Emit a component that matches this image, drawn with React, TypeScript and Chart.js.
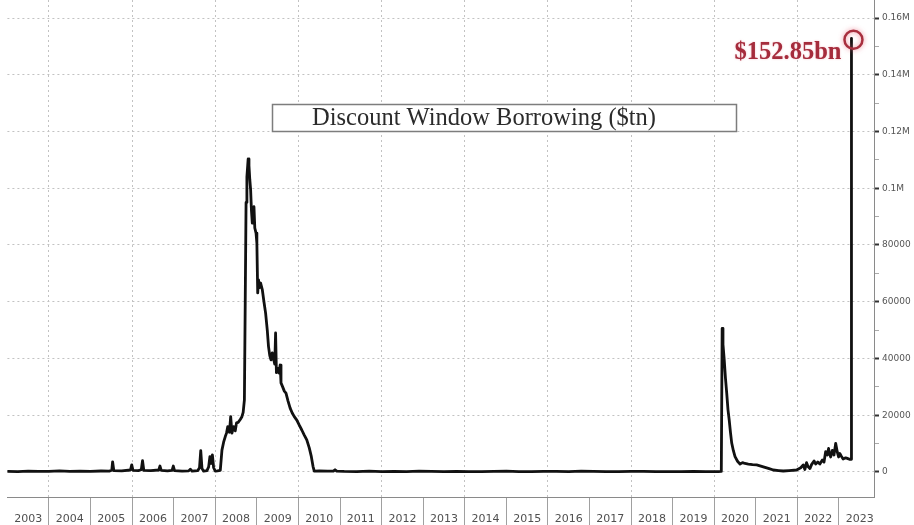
import React, { useEffect, useRef } from 'react';
import { Chart, registerables } from 'chart.js';

Chart.register(...registerables);

// Weekly observation dates (decimal years)
const dates: number[] = [
  2003.00, 2003.25, 2003.50, 2003.75, 2004.00, 2004.25, 2004.50, 2004.75, 2005.00, 2005.25, 2005.45,
  2005.51, 2005.53, 2005.56, 2005.75, 2005.96, 2005.99, 2006.02, 2006.15, 2006.22, 2006.25, 2006.28, 2006.45, 2006.64, 2006.67, 2006.70, 2006.85, 2006.96, 2006.99, 2007.02,
  2007.20, 2007.36, 2007.40, 2007.44, 2007.58, 2007.62, 2007.65, 2007.68, 2007.72, 2007.80, 2007.84, 2007.87, 2007.90, 2007.93, 2007.96, 2008.00,
  2008.05, 2008.12, 2008.16, 2008.20, 2008.24, 2008.27, 2008.30, 2008.34, 2008.37, 2008.40, 2008.44, 2008.48, 2008.51, 2008.55, 2008.60, 2008.64, 2008.67, 2008.70, 2008.72, 2008.74, 2008.76, 2008.79,
  2008.81, 2008.83, 2008.85, 2008.87, 2008.89, 2008.91, 2008.93, 2008.95, 2008.98, 2009.00,
  2009.02, 2009.04, 2009.06, 2009.09, 2009.13, 2009.17, 2009.21, 2009.25, 2009.28, 2009.31,
  2009.34, 2009.37, 2009.40, 2009.43, 2009.45, 2009.47, 2009.50, 2009.53, 2009.56, 2009.58,
  2009.62, 2009.66, 2009.70, 2009.75, 2009.80, 2009.85, 2009.90, 2009.96, 2010.02, 2010.08,
  2010.14, 2010.20, 2010.26, 2010.31, 2010.35, 2010.38,
  2010.50, 2010.70, 2010.84, 2010.88, 2010.92, 2011.10, 2011.40, 2011.70, 2012.00, 2012.30, 2012.60, 2012.90,
  2013.20, 2013.50, 2013.80, 2014.10, 2014.40, 2014.70, 2015.00, 2015.30, 2015.60, 2015.90, 2016.20, 2016.50,
  2016.80, 2017.10, 2017.40, 2017.70, 2018.00, 2018.30, 2018.60, 2018.90, 2019.20, 2019.50, 2019.80, 2020.10, 2020.17,
  2020.19, 2020.21, 2020.24, 2020.27, 2020.30, 2020.33, 2020.36, 2020.39, 2020.42, 2020.46,
  2020.50, 2020.56, 2020.62, 2020.68, 2020.74, 2020.82, 2020.92, 2021.02, 2021.12, 2021.22,
  2021.32, 2021.42, 2021.55, 2021.66, 2021.80, 2021.98, 2022.08, 2022.14, 2022.18, 2022.22,
  2022.26, 2022.30, 2022.34, 2022.40, 2022.44, 2022.49, 2022.54, 2022.60, 2022.64, 2022.68,
  2022.72, 2022.75, 2022.77, 2022.80, 2022.84, 2022.88, 2022.92, 2022.96, 2022.99, 2023.02,
  2023.06, 2023.10, 2023.16, 2023.20, 2023.25, 2023.29, 2023.30,
];

// Discount window borrowing ($mn)
const borrowing: number[] = [
  200, 150, 300, 200, 250, 400, 200, 300, 250, 350, 300,
  600, 3600, 500, 400, 700, 2500, 600, 500, 800, 4000, 600, 500, 700, 2100, 600, 400, 600, 2100, 500,
  300, 400, 1000, 300, 500, 1500, 7500, 1200, 300, 500, 1800, 5400, 3000, 6000, 1500, 300,
  400, 600, 7700, 10500, 12500, 13700, 16000, 14000, 19500, 13700, 16000, 14500, 17300, 17500, 18500, 19500, 21000, 25400, 60000, 95000, 104000, 110300,
  108000, 103000, 99400, 92000, 87700, 88000, 93500, 86000, 84200, 80700,
  63100, 67700, 65000, 66600, 64300, 60000, 56000, 50000, 44200, 41000,
  39500, 42000, 40000, 38000, 49000, 35000, 36500, 34900, 37700, 31400,
  30000, 28500, 27800, 25000, 22500, 20800, 19500, 18300, 16500, 14800,
  13000, 11300, 8500, 5400, 2000, 300,
  400, 300, 300, 800, 300, 200, 150, 300, 100, 200, 150, 300,
  200, 100, 250, 150, 100, 200, 300, 150, 100, 200, 250, 150,
  300, 200, 100, 150, 250, 200, 100, 150, 100, 200, 150, 100, 200,
  50600, 45000, 39500, 33000, 27800, 22000, 18300, 14000, 10200, 7500,
  5400, 3800, 2800, 3300, 3000, 2800, 2600, 2500, 2100, 1650,
  1200, 700, 500, 350, 500, 700, 1500, 2500, 900, 3300,
  1800, 1200, 2600, 3900, 2800, 3500, 2800, 4200, 3500, 7200,
  6000, 8300, 6500, 5300, 7600, 6000, 10100, 7000, 5300, 6500,
  5500, 4600, 5000, 4800, 4500, 4500, 152850,
];

const yearLabels: string[] = [
  '2003', '2004', '2005', '2006', '2007', '2008', '2009', '2010', '2011', '2012',
  '2013', '2014', '2015', '2016', '2017', '2018', '2019', '2020', '2021', '2022', '2023',
];

const yMajorTicks: number[] = [0, 20000, 40000, 60000, 80000, 100000, 120000, 140000, 160000];
const yTickLabels: string[] = ['0', '20000', '40000', '60000', '80000', '0.1M', '0.12M', '0.14M', '0.16M'];

const chartTitle = 'Discount Window Borrowing ($tn)';
const calloutText = '$152.85bn';

const overlayPlugin = {
  id: 'overlay',
  afterDatasetsDraw(chart: any) {
    const ctx: CanvasRenderingContext2D = chart.ctx;
    const xs = chart.scales.x;
    const ys = chart.scales.y;
    ctx.save();
    // title box
    ctx.fillStyle = '#ffffff';
    ctx.strokeStyle = '#7d7d7d';
    ctx.lineWidth = 1.5;
    ctx.beginPath();
    ctx.rect(272.5, 104.5, 464, 27);
    ctx.fill();
    ctx.stroke();
    ctx.fillStyle = '#2b2b2b';
    ctx.font = '24.5px "Liberation Serif", "DejaVu Serif", serif';
    ctx.textAlign = 'left';
    ctx.textBaseline = 'alphabetic';
    ctx.fillText(chartTitle, 312, 125);

    // callout circle at last point
    const last = dates.length - 1;
    const px = xs.getPixelForValue(dates[last]);
    const py = ys.getPixelForValue(borrowing[last]);
    ctx.shadowColor = 'rgba(230, 90, 110, 0.7)';
    ctx.shadowBlur = 5;
    ctx.strokeStyle = '#a8303f';
    ctx.lineWidth = 2.5;
    ctx.beginPath();
    ctx.arc(px + 2, py + 1.5, 9, 0, Math.PI * 2);
    ctx.stroke();
    ctx.shadowBlur = 2;
    ctx.shadowColor = 'rgba(230, 110, 130, 0.5)';
    ctx.fillStyle = '#a52c3c';
    ctx.font = 'bold 24.5px "Liberation Serif", "DejaVu Serif", serif';
    ctx.textAlign = 'right';
    ctx.fillText(calloutText, px - 10, py + 21);
    ctx.restore();
  },
};

export default function App() {
  const canvasRef = useRef<HTMLCanvasElement | null>(null);

  useEffect(() => {
    if (!canvasRef.current) return;
    Chart.defaults.font.family = '"DejaVu Sans", sans-serif';
    const data = dates.map((d, i) => ({ x: d, y: borrowing[i] }));
    const chart = new Chart(canvasRef.current, {
      type: 'line',
      data: {
        datasets: [
          {
            data,
            borderColor: '#111111',
            borderWidth: 2.8,
            borderJoinStyle: 'round',
            borderCapStyle: 'round',
            pointRadius: 0,
            tension: 0,
            fill: false,
          },
        ],
      },
      options: {
        animation: false,
        responsive: true,
        maintainAspectRatio: false,
        events: [],
        layout: { padding: { left: 7.4, top: 0, right: 0, bottom: 0 } },
        plugins: {
          legend: { display: false },
          tooltip: { enabled: false },
          title: { display: false },
        },
        scales: {
          x: {
            type: 'linear',
            position: 'bottom',
            min: 2003,
            max: 2023.842,
            afterBuildTicks: (s: any) => {
              s.ticks = yearLabels.map((l) => ({ value: Number(l) }));
            },
            afterFit: (s: any) => {
              s.height = 28;
              s.paddingLeft = 0;
              s.paddingRight = 0;
            },
            ticks: {
              autoSkip: false,
              maxRotation: 0,
              minRotation: 0,
              labelOffset: 20.8,
              padding: -12,
              color: '#505050',
              font: { size: 11, family: '"DejaVu Sans", sans-serif' },
              callback: (v: any) => String(v),
            },
            grid: {
              color: (c: any) => (c.tick && c.tick.value % 2 === 0 ? '#c2c2c2' : 'rgba(0,0,0,0)'),
              lineWidth: 1,
              drawTicks: true,
              tickLength: 28,
              tickColor: (c: any) => (c.tick && c.tick.value === 2003 ? 'rgba(0,0,0,0)' : '#a0a0a0'),
              tickBorderDash: [],
              tickWidth: 1,
            },
            border: { display: true, color: '#8a8a8a', width: 1, dash: [2, 3] },
          },
          y: {
            type: 'linear',
            position: 'right',
            min: -8811,
            max: 166344,
            afterBuildTicks: (s: any) => {
              const t: any[] = [];
              yMajorTicks.forEach((v, i) => {
                t.push({ value: v });
                if (i < yMajorTicks.length - 1) t.push({ value: (v + yMajorTicks[i + 1]) / 2 });
              });
              s.ticks = t;
            },
            afterFit: (s: any) => {
              s.width = 40;
              s.paddingTop = 0;
              s.paddingBottom = 0;
            },
            ticks: {
              autoSkip: false,
              padding: 3,
              color: '#555555',
              font: { size: 9, family: '"DejaVu Sans", sans-serif' },
              callback: (v: any) => {
                const idx = yMajorTicks.indexOf(Number(v));
                return idx >= 0 ? yTickLabels[idx] : '';
              },
            },
            grid: {
              color: (c: any) => (c.tick && yMajorTicks.includes(c.tick.value) ? '#c2c2c2' : 'rgba(0,0,0,0)'),
              lineWidth: 1,
              drawTicks: true,
              tickLength: 5,
              tickColor: (c: any) => (c.tick && yMajorTicks.includes(c.tick.value) ? '#333333' : '#aaaaaa'),
              tickWidth: (c: any) => (c.tick && yMajorTicks.includes(c.tick.value) ? 2 : 1),
              tickBorderDash: [],
            },
            border: { display: true, color: '#8a8a8a', width: 1, dash: [2, 3] },
          },
        },
      },
      plugins: [overlayPlugin],
    } as any);
    return () => chart.destroy();
  }, []);

  return (
    <div style={{ position: 'absolute', left: 0, top: 0, width: 914, height: 525, background: '#ffffff' }}>
      <canvas ref={canvasRef} />
    </div>
  );
}
